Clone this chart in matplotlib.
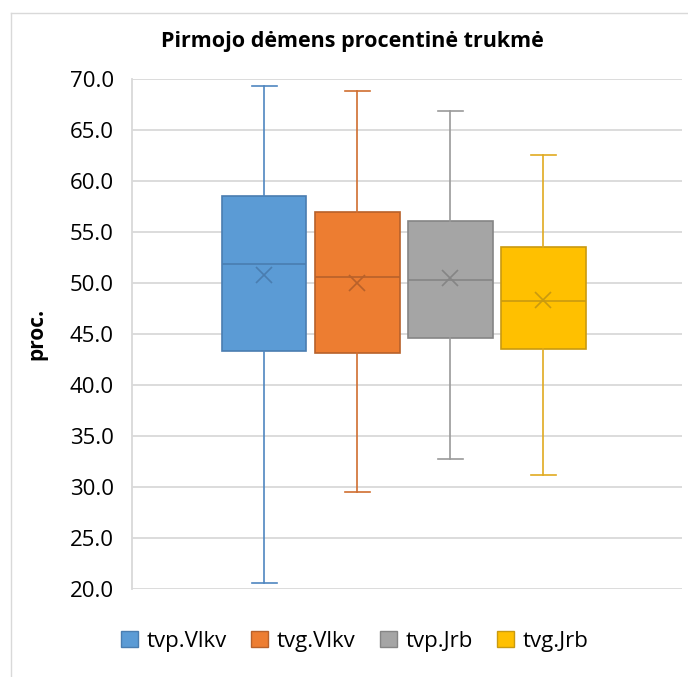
import matplotlib.pyplot as plt
from matplotlib.lines import Line2D
from matplotlib.patches import Patch

series = ["tvp.Vlkv", "tvg.Vlkv", "tvp.Jrb", "tvg.Jrb"]
whis_low = [20.6, 29.5, 32.7, 31.2]
q1 = [43.3, 43.1, 44.6, 43.5]
median = [51.9, 50.6, 50.3, 48.2]
mean = [50.8, 50.0, 50.5, 48.3]
q3 = [58.5, 57.0, 56.1, 53.5]
whis_high = [69.3, 68.8, 66.9, 62.5]

fill = ["#5B9BD5", "#ED7D31", "#A5A5A5", "#FFC000"]
edge = ["#4A7DB0", "#B8612A", "#858585", "#C99A10"]
whisk = ["#4F86C0", "#D06E30", "#9A9A9A", "#E0AA20"]

plt.rcParams['font.family'] = ['Open Sans', 'DejaVu Sans']

fig = plt.figure(figsize=(6.88, 6.77), dpi=100)
ax = fig.add_axes([132 / 688, 1 - 589 / 677, 550 / 688, 510 / 677])

stats = []
for i in range(len(series)):
    stats.append(dict(whislo=whis_low[i], q1=q1[i], med=median[i], mean=mean[i],
                      q3=q3[i], whishi=whis_high[i], fliers=[]))

for i in range(len(series)):
    ax.bxp([stats[i]], positions=[i], widths=0.91, patch_artist=True,
           showmeans=True, showfliers=False,
           boxprops=dict(facecolor=fill[i], edgecolor=edge[i], linewidth=1.2),
           medianprops=dict(color=edge[i], linewidth=1.2),
           whiskerprops=dict(color=whisk[i], linewidth=1.2),
           capprops=dict(color=whisk[i], linewidth=1.2),
           capwidths=0.27,
           meanprops=dict(marker='x', markeredgecolor=edge[i], markersize=11,
                          markeredgewidth=1.2),
           zorder=3)

ax.set_xlim(-1.42, 4.49)
ax.set_ylim(20, 70)
ax.set_yticks([20 + 5 * k for k in range(11)])
ax.set_yticklabels([f"{20 + 5 * k:.1f}" for k in range(11)], fontsize=16)
ax.set_xticks([])
ax.tick_params(axis='y', length=0, pad=13)
ax.grid(axis='y', color='#D9D9D9', linewidth=1.3, zorder=0)
ax.set_axisbelow(True)
for s in ['top', 'right', 'bottom']:
    ax.spines[s].set_visible(False)
ax.spines['left'].set_color('#D9D9D9')
ax.spines['left'].set_linewidth(1.3)

ax.set_ylabel("proc.", fontsize=15, fontweight='bold', labelpad=16)
fig.text(352 / 688, 1 - 41 / 677, "Pirmojo dėmens procentinė trukmė",
         ha='center', va='center', fontsize=15.5, fontweight='bold')

handles = [Patch(facecolor=fill[i], edgecolor=edge[i], linewidth=1) for i in range(4)]
fig.legend(handles, series, loc='center', bbox_to_anchor=(355 / 688, 1 - 641 / 677),
           ncol=4, frameon=False, fontsize=16, handlelength=0.75, handleheight=0.75,
           handletextpad=0.4, columnspacing=1.1)

# outer chart frame (left and top edges visible)
fig.add_artist(Line2D([11 / 688, 11 / 688], [0, 1 - 13 / 677], color='#D9D9D9', lw=1))
fig.add_artist(Line2D([11 / 688, 1], [1 - 13 / 677, 1 - 13 / 677], color='#D9D9D9', lw=1))

fig.savefig("out.png", dpi=100)
